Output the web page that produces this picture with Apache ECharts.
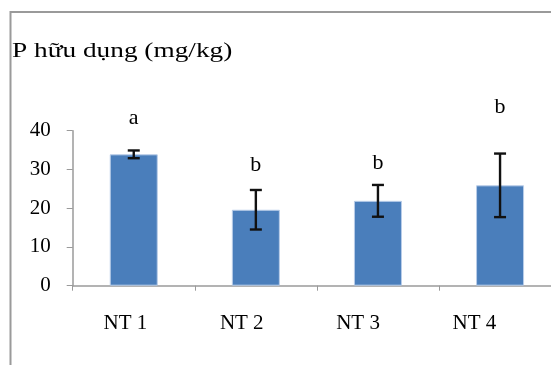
<!DOCTYPE html>
<html><head><meta charset="utf-8">
<script src="https://cdn.jsdelivr.net/npm/echarts@6/dist/echarts.min.js"></script>
<style>html,body{margin:0;padding:0;background:#fff}#c{width:551px;height:365px}</style>
</head><body><div id="c"></div>
<script>
const categories = ['NT 1', 'NT 2', 'NT 3', 'NT 4'];
const means = [33.9, 19.6, 21.9, 25.9];
const errors = [1.0, 5.1, 4.1, 8.2];
const letters = ['a', 'b', 'b', 'b'];
const letterPos = [43.3, 31.2, 31.7, 46.1];
const yTicks = [0, 10, 20, 30, 40];

const chart = echarts.init(document.getElementById('c'));
const serif = '"Liberation Serif", "Times New Roman", serif';
chart.setOption({
  animation: false,
  backgroundColor: '#fff',
  graphic: [
    {type: 'rect', shape: {x: 10.5, y: 12, width: 600, height: 400}, style: {fill: 'none', stroke: '#9a9a9a', lineWidth: 2}, z: 0},
    {type: 'text', x: 12, y: 41, scaleX: 1.3, style: {text: 'P hữu dụng (mg/kg)', font: '21px ' + serif, fill: '#000'}}
  ],
  grid: [
    {left: 72.7, width: 488.4, top: 130.7, bottom: 79.3, outerBoundsMode: 'none', containLabel: false},
    {left: 67.3, width: 465.2, top: 130.7, bottom: 79.3, outerBoundsMode: 'none', containLabel: false}
  ],
  xAxis: [{
    type: 'category', data: categories, gridIndex: 0,
    axisLine: {lineStyle: {color: '#9a9a9a', width: 1.5}},
    axisTick: {show: true, length: 5, lineStyle: {color: '#9a9a9a'}},
    axisLabel: {show: false}
  }, {
    type: 'category', data: categories, gridIndex: 1,
    axisLine: {show: false}, axisTick: {show: false},
    axisLabel: {color: '#000', fontFamily: serif, fontSize: 21, margin: 27}
  }],
  yAxis: [{
    type: 'value', min: 0, max: 40, interval: 10, gridIndex: 0,
    axisLine: {show: true, lineStyle: {color: '#9a9a9a', width: 1.5}},
    axisTick: {show: true, length: 6, lineStyle: {color: '#9a9a9a'}},
    splitLine: {show: false},
    axisLabel: {color: '#000', fontFamily: serif, fontSize: 21, margin: 22,
      formatter: v => yTicks.includes(v) ? String(v) : ''}
  }, {
    type: 'value', min: 0, max: 40, gridIndex: 1, show: false, splitLine: {show: false}
  }],
  series: [
    {type: 'bar', data: means, barWidth: 48,
      itemStyle: {color: '#4a7ebb', borderColor: '#b9cde8', borderWidth: 1}},
    {type: 'custom', clip: false, z: 5,
      data: means.map((m, i) => [i, m - errors[i], m + errors[i]]),
      renderItem: (params, api) => {
        const lo = api.coord([api.value(0), api.value(1)]);
        const hi = api.coord([api.value(0), api.value(2)]);
        const hw = 6;
        const st = {stroke: '#111', lineWidth: 2.4};
        return {type: 'group', children: [
          {type: 'line', shape: {x1: lo[0], y1: lo[1], x2: hi[0], y2: hi[1]}, style: st},
          {type: 'line', shape: {x1: lo[0] - hw, y1: lo[1], x2: lo[0] + hw, y2: lo[1]}, style: st},
          {type: 'line', shape: {x1: hi[0] - hw, y1: hi[1], x2: hi[0] + hw, y2: hi[1]}, style: st}
        ]};
      }},
    {type: 'custom', clip: false, z: 5,
      data: letterPos.map((p, i) => [i, p]),
      renderItem: (params, api) => {
        const pt = api.coord([api.value(0), api.value(1)]);
        return {type: 'text', x: pt[0], y: pt[1],
          style: {text: letters[params.dataIndex], font: '22px ' + serif, fill: '#000', align: 'center', verticalAlign: 'middle'}};
      }}
  ]
});
</script></body></html>
